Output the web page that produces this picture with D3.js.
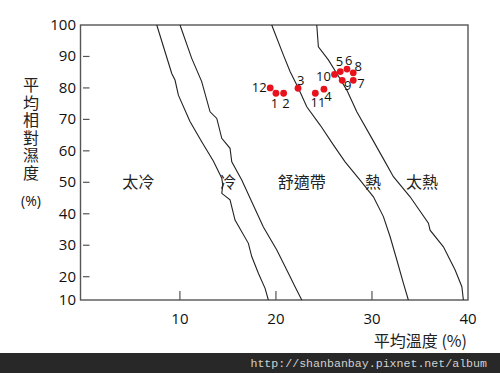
<!DOCTYPE html>
<html>
<head>
<meta charset="utf-8">
<script src="https://cdn.jsdelivr.net/npm/d3@7"></script>
<style>
body{margin:0;background:#fff;}
svg{display:block;}
.num{font-family:"Open Sans","Noto Sans",sans-serif;fill:#111;}
.cjk{font-family:"Noto Sans CJK TC","Noto Sans",sans-serif;fill:#222;}
</style>
</head>
<body>
<script>
// comfort chart: temperature vs relative humidity

var svgwidth = 500, svgheight = 373;

// x ticks / y ticks
var xTicks = [10, 20, 30, 40];
var yTicks = [10, 20, 30, 40, 50, 60, 70, 80, 90, 100];

// monthly points: [temp, humidity]
var months = ["1","2","3","4","5","6","7","8","9","10","11","12"];
var monthTemp = [20.0, 20.8, 22.3, 25.0, 26.7, 27.4, 28.05, 28.05, 26.9, 26.1, 24.1, 19.4];
var monthRH   = [78.3, 78.3, 79.9, 79.6, 85.2, 86.0, 82.4, 84.8, 82.4, 84.3, 78.3, 80.0];

// zone boundary curves (temp, humidity)
var line1T  = [7.59, 9.15, 9.49, 9.84, 11.05, 12.27, 13.48, 14.36, 14.46, 14.36, 15.22, 15.74, 17.13, 17.48, 18.17, 18.87, 19.21];
var line1RH = [100, 84.6, 82.5, 77.7, 69.3, 62.9, 56.8, 51.3, 49.1, 46.5, 44.4, 38.0, 30.6, 26.4, 21.1, 15.0, 10];
var line2T  = [10.01, 11.23, 12.27, 13.14, 13.84, 14.36, 15.22, 15.40, 16.44, 17.48, 18.69, 20.09, 21.13, 21.99, 22.69];
var line2RH = [100, 89.4, 82.0, 72.4, 70.3, 64.0, 60.8, 56.5, 50.7, 43.8, 35.8, 28.5, 22.1, 15.7, 10];
var line3T  = [19.56, 20.77, 21.47, 22.34, 23.21, 24.60, 25.98, 27.20, 28.76, 30.15, 31.19, 31.89, 32.59, 33.27, 33.79];
var line3RH = [100, 90.5, 85.2, 79.9, 74.0, 68.2, 61.9, 56.5, 50.7, 45.4, 39.1, 32.7, 25.3, 17.2, 10];
var line4T  = [24.25, 24.42, 25.46, 26.34, 27.38, 28.42, 29.80, 31.37, 32.23, 33.97, 35.88, 36.05, 37.44, 38.66, 39.36, 39.52];
var line4RH = [100, 93.1, 88.9, 84.6, 79.3, 72.4, 65.0, 56.5, 51.8, 45.4, 37.0, 34.8, 29.5, 22.1, 15.7, 10];

// zone names and where they sit (temp)
var zones = ["太冷", "冷", "舒適帶", "熱", "太熱"];
var zoneT = [5.65, 15.0, 22.7, 30.1, 35.2];

// label offsets for month numbers (px from dot)
var labelDx = [-1.5, 2.4, 2.7, 4, -0.7, 1.6, 7.7, 5, 5.4, -11, 2.7, -11];
var labelDy = [10, 10, -8, 7.4, -10, -8.3, 3, -6, 5, 1.7, 9.4, 0];

var plotLeft = 80.5, plotRight = 468, plotTop = 25, plotBottom = 300;

var x = d3.scaleLinear().domain([-0.3, 40]).range([81, 468]);
// lowest band on the original is squeezed
var y = d3.scaleLinear().domain([10, 20, 100]).range([300, 276.7, 25]);

var svg = d3.select("body").append("svg")
	.attr("width", svgwidth)
	.attr("height", svgheight);

svg.append("rect").attr("width", svgwidth).attr("height", svgheight).attr("fill", "#fff");

// frame
svg.append("rect")
	.attr("x", plotLeft).attr("y", plotTop)
	.attr("width", plotRight - plotLeft).attr("height", plotBottom - plotTop)
	.attr("fill", "none").attr("stroke", "#555").attr("stroke-width", 1.4);

// x ticks (inside)
svg.selectAll(".xt").data(xTicks.filter(function(d){return d < 40;}))
	.enter().append("line")
	.attr("x1", function(d){return x(d);}).attr("x2", function(d){return x(d);})
	.attr("y1", plotBottom).attr("y2", plotBottom - 9)
	.attr("stroke", "#555").attr("stroke-width", 1.2);

svg.selectAll(".xl").data(xTicks)
	.enter().append("text").attr("class", "num")
	.attr("x", function(d){return x(d);}).attr("y", 324)
	.attr("text-anchor", "middle").attr("font-size", 15)
	.text(function(d){return d;});

// y ticks (inside, short dashes)
svg.selectAll(".yt").data(yTicks.filter(function(d){return d > 10 && d < 100;}))
	.enter().append("line")
	.attr("x1", 83).attr("x2", 89.5)
	.attr("y1", function(d){return y(d);}).attr("y2", function(d){return y(d);})
	.attr("stroke", "#555").attr("stroke-width", 1.2);

svg.selectAll(".yl").data(yTicks)
	.enter().append("text").attr("class", "num")
	.attr("x", 76).attr("y", function(d){return y(d) + 5;})
	.attr("text-anchor", "end").attr("font-size", 15)
	.text(function(d){return d;});

// axis titles
svg.append("text").attr("class", "cjk")
	.attr("x", 31).attr("y", 77)
	.attr("writing-mode", "tb")
	.style("writing-mode", "vertical-rl")
	.style("text-orientation", "upright")
	.style("letter-spacing", "1.5px")
	.attr("font-size", 16)
	.text("平均相對濕度");
svg.append("text").attr("class", "num")
	.attr("x", 31).attr("y", 206).attr("text-anchor", "middle").attr("font-size", 14)
	.text("(%)");

svg.append("text").attr("class", "cjk")
	.attr("x", 467).attr("y", 347).attr("text-anchor", "end").attr("font-size", 16)
	.text("平均溫度 (%)");

// boundary curves
var curves = [[line1T, line1RH], [line2T, line2RH], [line3T, line3RH], [line4T, line4RH]];
var line = d3.line()
	.x(function(d){return x(d[0]);})
	.y(function(d){return y(d[1]);});

svg.selectAll(".curve").data(curves)
	.enter().append("path")
	.attr("d", function(c){return line(d3.zip(c[0], c[1]));})
	.attr("fill", "none").attr("stroke", "#222").attr("stroke-width", 1.1);

// zone names
svg.selectAll(".zone").data(zones)
	.enter().append("text").attr("class", "cjk")
	.attr("x", function(d, i){return x(zoneT[i]);}).attr("y", y(50) + 5.5)
	.attr("text-anchor", "middle").attr("font-size", 16)
	.text(function(d){return d;});

// month points
var pts = d3.zip(months, monthTemp, monthRH);
svg.selectAll(".dot").data(pts)
	.enter().append("circle")
	.attr("cx", function(d){return x(d[1]);}).attr("cy", function(d){return y(d[2]);})
	.attr("r", 3.4).attr("fill", "#e8121c");

svg.selectAll(".ml").data(pts)
	.enter().append("text").attr("class", "num")
	.attr("x", function(d, i){return x(d[1]) + labelDx[i];})
	.attr("y", function(d, i){return y(d[2]) + labelDy[i] + 4.5;})
	.attr("text-anchor", "middle").attr("font-size", 13)
	.text(function(d){return d[0];});

// bottom banner
svg.append("rect").attr("x", 0).attr("y", 353).attr("width", svgwidth).attr("height", 20).attr("fill", "#282828");
svg.append("text")
	.attr("x", 487).attr("y", 367).attr("text-anchor", "end")
	.attr("font-family", "'Liberation Mono','DejaVu Sans Mono',monospace").attr("font-size", 11.6)
	.attr("fill", "#d0d0d0")
	.text("http://shanbanbay.pixnet.net/album");
</script>
</body>
</html>
